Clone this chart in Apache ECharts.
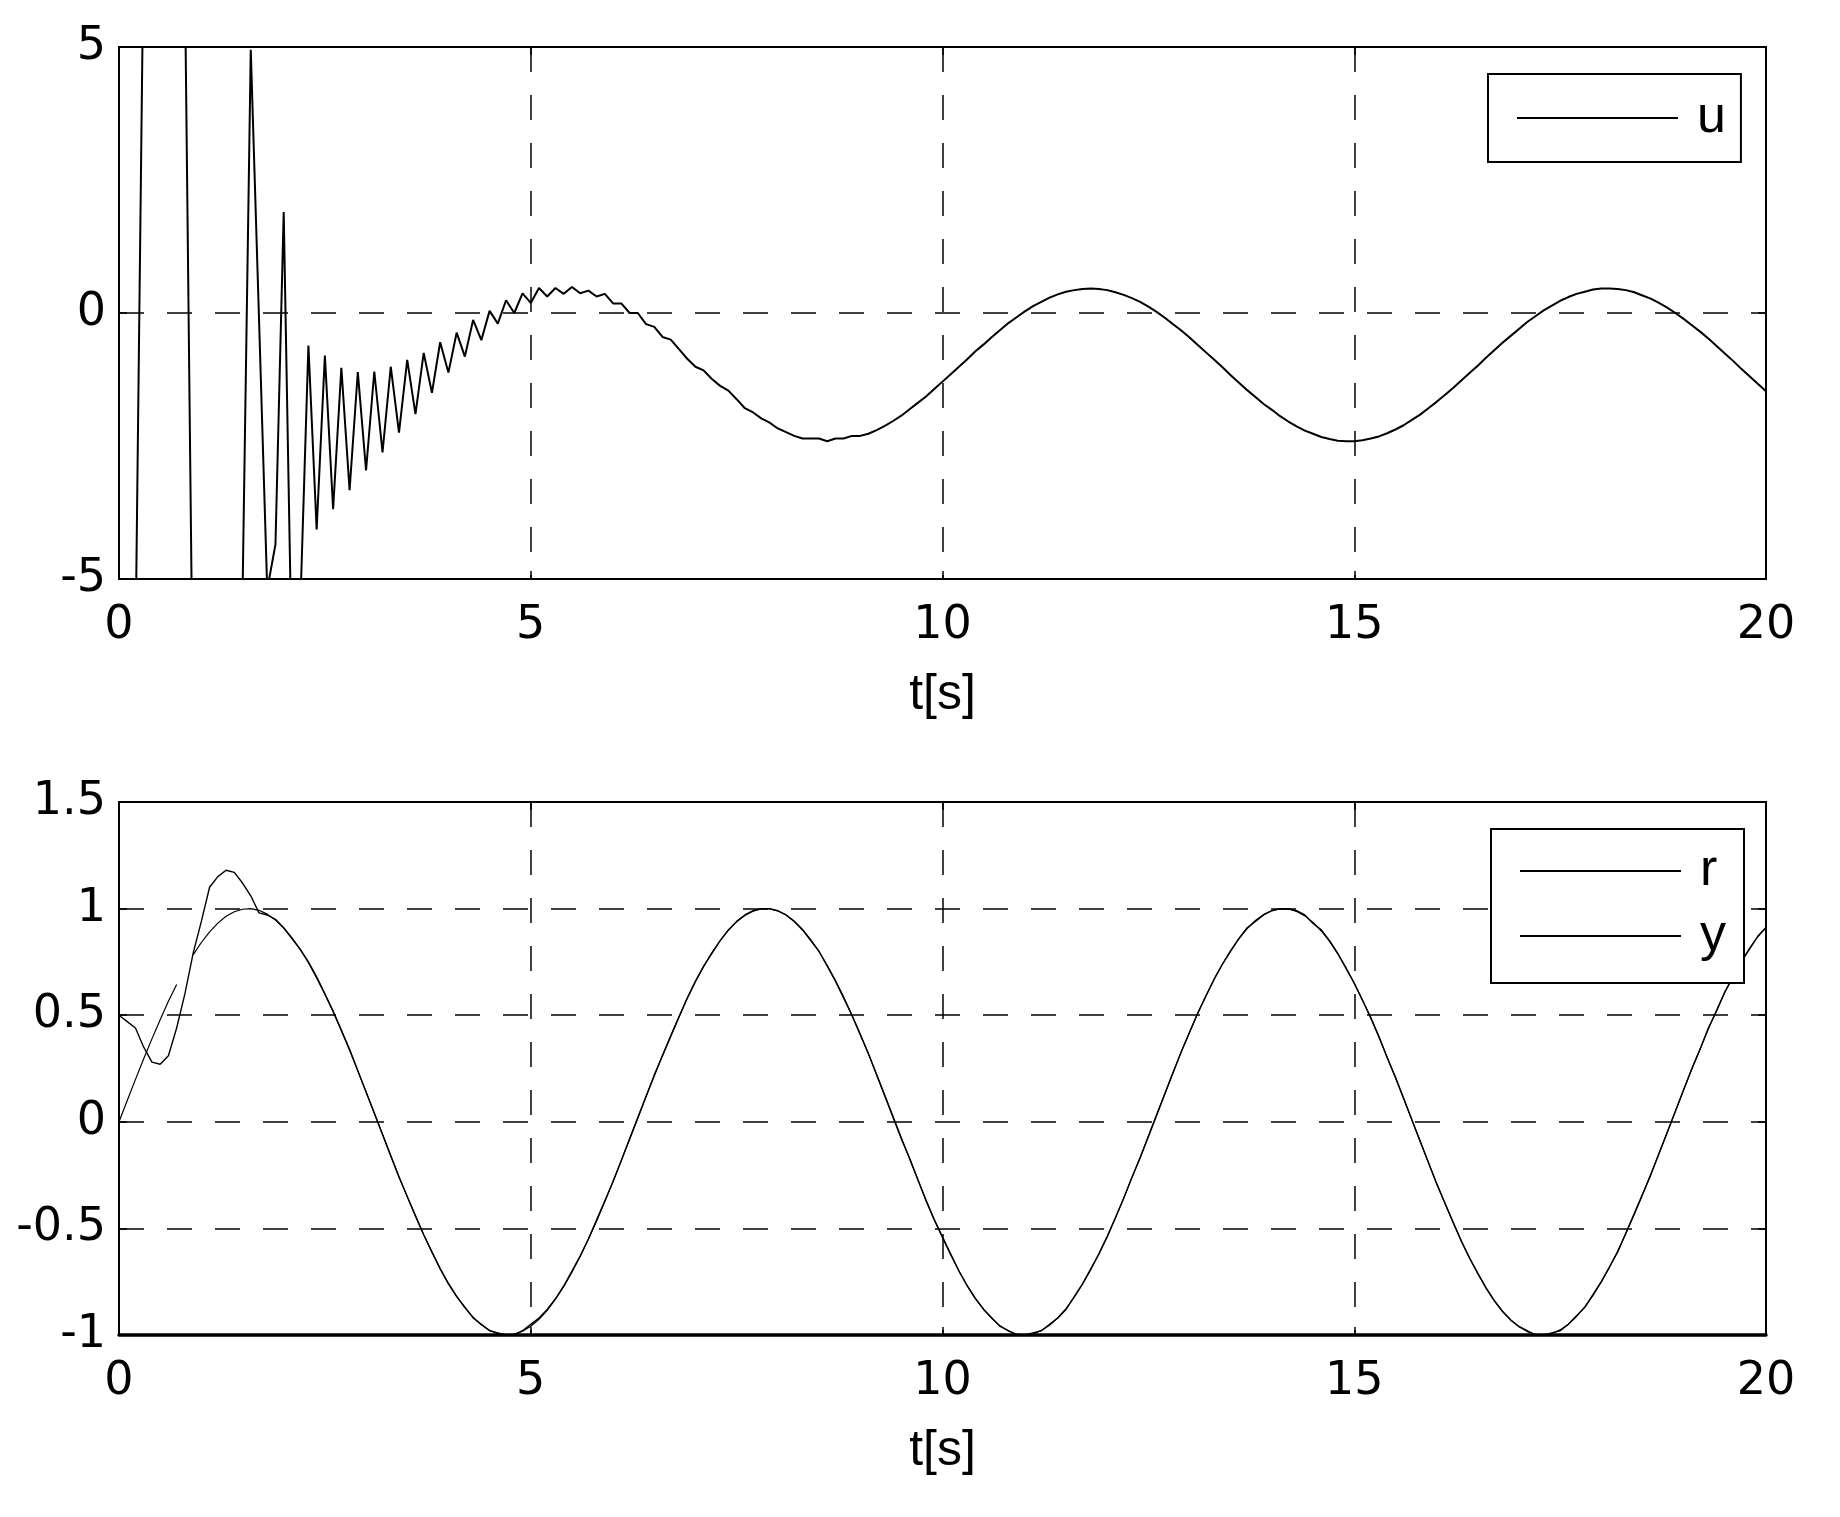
<!DOCTYPE html>
<html><head><meta charset="utf-8">
<script src="https://cdn.jsdelivr.net/npm/echarts@6/dist/echarts.min.js"></script>
<style>html,body{margin:0;padding:0;background:#fff}#c{width:1840px;height:1517px}</style>
</head><body><div id="c"></div>
<script>
// sample spacing of all traces (s)
const T_STEP = 0.1;
// tick labels
const xTicks = [0, 5, 10, 15, 20];
const uTicks = [-5, 0, 5];
const ryTicks = [-1, -0.5, 0, 0.5, 1, 1.5];
const legendTop = ['u'];
const legendBottom = ['r', 'y'];

// control signal u (t = 0 ... 20 s)
const uVals = [
 -12, -14, -6.3, 7.1, 12, 14, 13, 10, 6.3, -7.7,
 -11, -13, -12, -10, -8, -5.3, 4.95, -0.1, -5.2, -4.35,
 1.9, -6.7, -5.6, -0.61, -4.07, -0.80, -3.69, -1.03, -3.33, -1.11,
 -2.96, -1.10, -2.62, -1.01, -2.25, -0.88, -1.90, -0.75, -1.50, -0.55,
 -1.12, -0.37, -0.82, -0.13, -0.51, 0.04, -0.20, 0.24, 0.0, 0.37,
 0.19, 0.47, 0.31, 0.47, 0.36, 0.49, 0.37, 0.42, 0.31, 0.36,
 0.18, 0.18, 0.0, 0.0, -0.21, -0.26, -0.45, -0.50, -0.68, -0.86,
 -1.01, -1.08, -1.24, -1.37, -1.46, -1.62, -1.79, -1.87, -1.98, -2.06,
 -2.17, -2.24, -2.31, -2.36, -2.36, -2.36, -2.41, -2.36, -2.36, -2.31,
 -2.31, -2.27, -2.20, -2.12, -2.03, -1.93, -1.81, -1.69, -1.57, -1.43,
 -1.29, -1.15, -1.01, -0.87, -0.72, -0.59, -0.45, -0.32, -0.19, -0.08,
 0.03, 0.13, 0.21, 0.29, 0.35, 0.40, 0.43, 0.45, 0.46, 0.45,
 0.43, 0.39, 0.34, 0.28, 0.21, 0.12, 0.02, -0.09, -0.21, -0.33,
 -0.46, -0.60, -0.74, -0.88, -1.02, -1.17, -1.31, -1.45, -1.58, -1.71,
 -1.82, -1.94, -2.04, -2.13, -2.21, -2.27, -2.33, -2.37, -2.40, -2.41,
 -2.41, -2.39, -2.36, -2.32, -2.26, -2.19, -2.11, -2.01, -1.91, -1.79,
 -1.67, -1.54, -1.41, -1.27, -1.13, -0.99, -0.84, -0.70, -0.56, -0.43,
 -0.30, -0.17, -0.06, 0.05, 0.14, 0.23, 0.30, 0.36, 0.40, 0.44,
 0.46, 0.46, 0.45, 0.43, 0.39, 0.33, 0.27, 0.19, 0.10, 0.00,
 -0.11, -0.23, -0.35, -0.48, -0.62, -0.76, -0.90, -1.05, -1.19, -1.33,
 -1.47
];

// reference r (gap where the trace is not drawn)
const rVals = [
 0, 0.100, 0.199, 0.296, 0.389, 0.479, 0.565, 0.644, null, 0.783,
 0.841, 0.891, 0.932, 0.964, 0.985, 0.997, 1.000, 0.992, 0.974, 0.946,
 0.909, 0.863, 0.808, 0.746, 0.675, 0.598, 0.516, 0.427, 0.335, 0.239,
 0.141, 0.042, -0.058, -0.158, -0.256, -0.351, -0.443, -0.530, -0.612, -0.688,
 -0.757, -0.818, -0.872, -0.916, -0.952, -0.978, -0.994, -1.000, -0.996, -0.982,
 -0.959, -0.926, -0.884, -0.832, -0.773, -0.706, -0.631, -0.551, -0.465, -0.374,
 -0.279, -0.182, -0.083, 0.017, 0.117, 0.215, 0.312, 0.405, 0.494, 0.578,
 0.657, 0.729, 0.794, 0.850, 0.899, 0.938, 0.968, 0.988, 0.999, 0.999,
 0.989, 0.970, 0.941, 0.902, 0.855, 0.799, 0.734, 0.663, 0.585, 0.501,
 0.412, 0.319, 0.223, 0.125, 0.025, -0.075, -0.174, -0.272, -0.367, -0.458,
 -0.544, -0.625, -0.700, -0.768, -0.828, -0.880, -0.923, -0.957, -0.981, -0.996,
 -1.000, -0.995, -0.979, -0.954, -0.919, -0.876, -0.823, -0.762, -0.694, -0.618,
 -0.537, -0.450, -0.358, -0.263, -0.166, -0.066, 0.034, 0.133, 0.232, 0.328,
 0.420, 0.509, 0.592, 0.670, 0.740, 0.804, 0.859, 0.906, 0.944, 0.972,
 0.991, 0.999, 0.998, 0.987, 0.966, 0.935, 0.895, 0.846, 0.788, 0.723,
 0.650, 0.571, 0.486, 0.397, 0.303, 0.207, 0.108, 0.008, -0.092, -0.191,
 -0.288, -0.382, -0.472, -0.558, -0.638, -0.712, -0.778, -0.837, -0.888, -0.929,
 -0.961, -0.984, -0.997, -1.000, -0.993, -0.976, -0.949, -0.913, -0.868, -0.814,
 -0.751, -0.682, -0.606, -0.523, -0.435, -0.343, -0.247, -0.149, -0.050, 0.050,
 0.150, 0.248, 0.343, 0.435, 0.523, 0.606, 0.682, 0.752, 0.814, 0.868,
 0.913
];

// output y
const yVals = [
 0.50, 0.47, 0.44, 0.35, 0.28, 0.27, 0.31, 0.44, 0.60, 0.79,
 0.94, 1.10, 1.15, 1.18, 1.17, 1.12, 1.06, 0.98, 0.97, 0.95,
 0.91, 0.86, 0.81, 0.75, 0.68, 0.60, 0.52, 0.43, 0.34, 0.24,
 0.14, 0.04, -0.06, -0.16, -0.26, -0.35, -0.44, -0.53, -0.61, -0.69,
 -0.76, -0.82, -0.87, -0.92, -0.95, -0.98, -0.99, -1.00, -1.00, -0.98,
 -0.95, -0.92, -0.88, -0.83, -0.77, -0.70, -0.63, -0.55, -0.46, -0.37,
 -0.28, -0.18, -0.08, 0.02, 0.12, 0.22, 0.31, 0.40, 0.49, 0.58,
 0.66, 0.73, 0.79, 0.85, 0.90, 0.94, 0.97, 0.99, 1.00, 1.00,
 0.99, 0.97, 0.94, 0.90, 0.85, 0.80, 0.73, 0.66, 0.58, 0.50,
 0.41, 0.32, 0.22, 0.12, 0.02, -0.08, -0.17, -0.27, -0.37, -0.46,
 -0.54, -0.62, -0.70, -0.77, -0.83, -0.88, -0.92, -0.96, -0.98, -1.00,
 -1.00, -0.99, -0.98, -0.95, -0.92, -0.88, -0.82, -0.76, -0.69, -0.62,
 -0.54, -0.45, -0.36, -0.26, -0.17, -0.07, 0.03, 0.13, 0.23, 0.33,
 0.42, 0.51, 0.59, 0.67, 0.74, 0.80, 0.86, 0.91, 0.94, 0.97,
 0.99, 1.00, 1.00, 0.99, 0.97, 0.93, 0.90, 0.85, 0.79, 0.72,
 0.65, 0.57, 0.49, 0.40, 0.30, 0.21, 0.11, 0.01, -0.09, -0.19,
 -0.29, -0.38, -0.47, -0.56, -0.64, -0.71, -0.78, -0.84, -0.89, -0.93,
 -0.96, -0.98, -1.00, -1.00, -0.99, -0.98, -0.95, -0.91, -0.87, -0.81,
 -0.75, -0.68, -0.61, -0.52, -0.43, -0.34, -0.25, -0.15, -0.05, 0.05,
 0.15, 0.25, 0.34, 0.44, 0.52, 0.61, 0.68, 0.75, 0.81, 0.87,
 0.91
];

const FONT = "'Liberation Sans', Arial, Helvetica, sans-serif";
const TICK_FONT = "'DejaVu Sans', 'Liberation Sans', Arial, sans-serif";
const BLACK = '#000';
const toPairs = arr => arr.map((v, i) => [i * T_STEP, v === null ? '-' : v]);

const dashed = { type: [25, 23], color: BLACK, width: 1.5 };
function xAx(gi, pos, main, lineW) {
  return {
    type: 'value', gridIndex: gi, position: pos,
    min: xTicks[0], max: xTicks[xTicks.length - 1], interval: xTicks[1] - xTicks[0],
    axisLine: { show: true, onZero: false, lineStyle: { color: BLACK, width: lineW } },
    axisTick: { show: true, inside: true, length: 8, lineStyle: { color: BLACK, width: 1.5 } },
    axisLabel: { show: main, color: BLACK, fontSize: 46, fontFamily: TICK_FONT, margin: 24 },
    splitLine: { show: main, lineStyle: dashed },
    name: main ? 't[s]' : '', nameLocation: 'middle', nameGap: 91,
    nameTextStyle: { color: BLACK, fontSize: 50, fontFamily: FONT }
  };
}
function yAx(gi, pos, main, ticks) {
  return {
    type: 'value', gridIndex: gi, position: pos,
    min: ticks[0], max: ticks[ticks.length - 1], interval: ticks[1] - ticks[0],
    axisLine: { show: true, onZero: false, lineStyle: { color: BLACK, width: 2 } },
    axisTick: { show: true, inside: true, length: 8, lineStyle: { color: BLACK, width: 1.5 } },
    axisLabel: { show: main, color: BLACK, fontSize: 46, fontFamily: TICK_FONT, margin: 13 },
    splitLine: { show: main, lineStyle: dashed }
  };
}
function legendBox(names, left, top, pad, gap) {
  return {
    data: names.map(n => ({ name: n, icon: 'rect' })),
    orient: 'vertical', left: left, top: top,
    itemWidth: 161, itemHeight: 2, itemGap: gap, padding: pad,
    backgroundColor: '#fff', borderColor: BLACK, borderWidth: 2, borderRadius: 0,
    selectedMode: false,
    itemStyle: { color: BLACK, borderWidth: 0 },
    textStyle: { color: BLACK, fontSize: 52, fontFamily: FONT, lineHeight: 60, padding: [12, 0, 0, 14] }
  };
}

const chart = echarts.init(document.getElementById('c'), null, { renderer: 'canvas' });
chart.setOption({
  animation: false,
  backgroundColor: '#fff',
  grid: [
    { left: 119, top: 47, width: 1647, height: 532, show: true, borderColor: BLACK, borderWidth: 2, backgroundColor: 'transparent' },
    { left: 119, top: 802, width: 1647, height: 533, show: true, borderColor: BLACK, borderWidth: 2, backgroundColor: 'transparent' }
  ],
  xAxis: [ xAx(0, 'bottom', true, 2), xAx(0, 'top', false, 2), xAx(1, 'bottom', true, 3.5), xAx(1, 'top', false, 2) ],
  yAxis: [ yAx(0, 'left', true, uTicks), yAx(0, 'right', false, uTicks), yAx(1, 'left', true, ryTicks), yAx(1, 'right', false, ryTicks) ],
  legend: [
    legendBox(legendTop, 1488, 74, [8, 15, 8, 29], 5),
    legendBox(legendBottom, 1491, 829, [6, 18, 11, 29], -7)
  ],
  series: [
    { name: 'u', type: 'line', xAxisIndex: 0, yAxisIndex: 0, data: toPairs(uVals), symbol: 'none', clip: true,
      color: BLACK, lineStyle: { color: BLACK, width: 2 } },
    { name: 'r', type: 'line', xAxisIndex: 2, yAxisIndex: 2, data: toPairs(rVals), symbol: 'none', clip: true,
      connectNulls: false, color: BLACK, lineStyle: { color: BLACK, width: 1.2 } },
    { name: 'y', type: 'line', xAxisIndex: 2, yAxisIndex: 2, data: toPairs(yVals), symbol: 'none', clip: true,
      color: BLACK, lineStyle: { color: BLACK, width: 1.4 } }
  ]
});
</script>
</body></html>
